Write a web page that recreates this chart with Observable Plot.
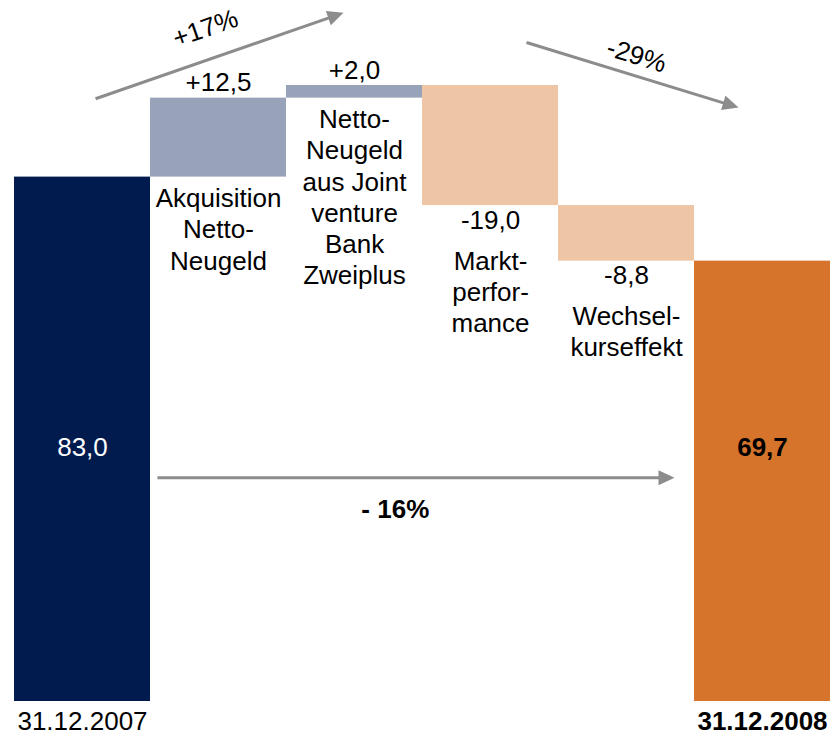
<!DOCTYPE html>
<html><head><meta charset="utf-8">
<script src="https://cdn.jsdelivr.net/npm/d3@7"></script>
<script src="https://cdn.jsdelivr.net/npm/@observablehq/plot@0.6"></script>
<style>
body{margin:0;background:#fff;}
#chart{width:834px;height:737px;}
</style></head><body><div id="chart"></div>
<script>
// ---- data ----
const categories = ["31.12.2007", "Akquisition\nNetto-\nNeugeld", "Netto-\nNeugeld\naus Joint\nventure\nBank\nZweiplus", "Markt-\nperfor-\nmance", "Wechsel-\nkurseffekt", "31.12.2008"];
const values = [83.0, 12.5, 2.0, -19.0, -8.8, 69.7];
const valueLabels = ["83,0", "+12,5", "+2,0", "-19,0", "-8,8", "69,7"];
const kinds = ["start", "up", "up", "down", "down", "end"];
const colors = ["#011b4f", "#98a3ba", "#98a3ba", "#eec6a6", "#eec6a6", "#d5742a"];

// annotation arrows (x in bar-slot units, y in data units)
const arrowLabels = ["+17%", "-29%", "- 16%"];
const arrowFrom = [[0.596, 95.4], [3.765, 104.3], [1.051, 35.4]];
const arrowTo = [[2.419, 109.0], [5.324, 94.0], [4.853, 35.4]];
const arrowLabelPos = [[1.404, 106.5], [4.574, 102.2], [2.80, 30.4]];
const totalLabelY = 40.2;

// ---- layout ----
const W = 834, H = 737;
const M = {top: 85, right: 4, bottom: 36, left: 14};
const yMax = 97.5;
const FONT = "Liberation Sans, Arial, Helvetica, sans-serif";
const FS = 26;

// ---- build rows ----
let cum = 0;
const rows = values.map((v, i) => {
  let y1, y2;
  if (kinds[i] === "start" || kinds[i] === "end") { y1 = 0; y2 = v; cum = v; }
  else { y1 = cum; y2 = cum + v; cum += v; }
  return {i, name: categories[i], label: valueLabels[i], kind: kinds[i], color: colors[i],
          y1, y2, top: Math.max(y1, y2), bottom: Math.min(y1, y2)};
});
const ups = rows.filter(d => d.kind === "up");
const downs = rows.filter(d => d.kind === "down");
const starts = rows.filter(d => d.kind === "start");
const ends = rows.filter(d => d.kind === "end");

// pixel helpers mirroring the Plot scales (for arrow angles)
const xs = d3.scaleLinear([0, 6], [M.left, W - M.right]);
const ys = d3.scaleLinear([0, yMax], [H - M.bottom, M.top]);
const arrows = arrowLabels.map((lab, k) => {
  const [ax, ay] = arrowFrom[k], [bx, by] = arrowTo[k];
  const px1 = xs(ax), py1 = ys(ay), px2 = xs(bx), py2 = ys(by);
  const dx = px2 - px1, dy = py2 - py1, len = Math.hypot(dx, dy);
  const back = 10;
  return {
    label: lab, x1: ax, y1: ay, x2: bx, y2: by,
    lx2: xs.invert(px2 - dx / len * back), ly2: ys.invert(py2 - dy / len * back),
    angle: Math.atan2(dx, -dy) * 180 / Math.PI,
    tx: arrowLabelPos[k][0], ty: arrowLabelPos[k][1]
  };
});
const arrowHead = {
  draw(ctx) { const L = 16, hw = 7.5; ctx.moveTo(0, 0); ctx.lineTo(hw, L); ctx.lineTo(-hw, L); ctx.closePath(); }
};
const txt = {fontFamily: FONT, fontSize: FS, fill: "#000", textAnchor: "middle"};
const cx = d => d.i + 0.5;

const chart = Plot.plot({
  width: W, height: H,
  marginTop: M.top, marginRight: M.right, marginBottom: M.bottom, marginLeft: M.left,
  x: {domain: [0, 6], axis: null},
  y: {domain: [0, yMax], axis: null},
  color: {type: "identity"},
  style: {fontFamily: FONT, background: "#fff"},
  marks: [
    Plot.rect(rows, {x1: d => d.i, x2: d => d.i + 1, y1: "y1", y2: "y2", fill: "color"}),
    // increases
    Plot.text(ups, {...txt, x: cx, y: "top", text: "label", lineAnchor: "middle", dy: -15}),
    Plot.text(ups, {...txt, x: cx, y: "bottom", text: "name", lineAnchor: "top", dy: 8, lineHeight: 1.2}),
    // decreases
    Plot.text(downs, {...txt, x: cx, y: "bottom", text: "label", lineAnchor: "middle", dy: 15}),
    Plot.text(downs, {...txt, x: cx, y: "bottom", text: "name", lineAnchor: "top", dy: 42, lineHeight: 1.2}),
    // totals
    Plot.text(starts, {...txt, x: cx, y: () => totalLabelY, text: "label", lineAnchor: "middle", fill: "#fff"}),
    Plot.text(ends, {...txt, x: cx, y: () => totalLabelY, text: "label", lineAnchor: "middle", fontWeight: "bold"}),
    Plot.text(starts, {...txt, x: cx, y: () => 0, text: "name", lineAnchor: "middle", dy: 20}),
    Plot.text(ends, {...txt, x: cx, y: () => 0, text: "name", lineAnchor: "middle", dy: 20, fontWeight: "bold"}),
    // arrows
    Plot.link(arrows, {x1: "x1", y1: "y1", x2: "lx2", y2: "ly2", stroke: "#8c8c8c", strokeWidth: 3}),
    Plot.dot(arrows, {x: "x2", y: "y2", symbol: arrowHead, rotate: "angle", fill: "#8c8c8c", r: 6}),
    Plot.text([arrows[0]], {...txt, x: "tx", y: "ty", text: "label", lineAnchor: "middle", rotate: -19}),
    Plot.text([arrows[1]], {...txt, x: "tx", y: "ty", text: "label", lineAnchor: "middle", rotate: 17}),
    Plot.text([arrows[2]], {...txt, x: "tx", y: "ty", text: "label", lineAnchor: "middle", fontWeight: "bold"})
  ]
});
document.getElementById("chart").appendChild(chart);
</script>
</body></html>
